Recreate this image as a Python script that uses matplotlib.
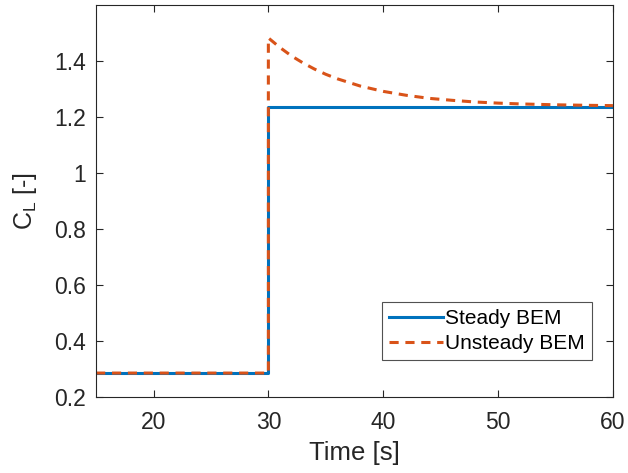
import matplotlib
matplotlib.use("Agg")
import matplotlib.pyplot as plt

plt.rcParams['font.family'] = ['Liberation Sans', 'DejaVu Sans']

# steady BEM: step at t = 30 s
t_steady = [15, 30, 30, 60]
cl_steady = [0.285, 0.285, 1.236, 1.236]

# unsteady BEM: overshoot after the step, then decays towards steady value
t_unsteady = [15, 30, 30, 31, 32, 33, 34, 35, 36, 38, 40, 42, 44, 46, 48, 50, 52, 55, 58, 60]
cl_unsteady = [0.285, 0.285, 1.483, 1.449, 1.419, 1.394, 1.372, 1.353, 1.337, 1.311,
               1.292, 1.278, 1.267, 1.260, 1.254, 1.250, 1.247, 1.244, 1.242, 1.241]

x_ticks = [20, 30, 40, 50, 60]
y_ticks = [0.2, 0.4, 0.6, 0.8, 1.0, 1.2, 1.4]
y_ticklabels = ["0.2", "0.4", "0.6", "0.8", "1", "1.2", "1.4"]

fig = plt.figure(figsize=(6.28, 4.73), dpi=100)
ax = fig.add_axes([0.153, 0.161, 0.823, 0.828])

ax.plot(t_steady, cl_steady, color="#0072BD", lw=2.2, label="Steady BEM")
ax.plot(t_unsteady, cl_unsteady, color="#D95319", lw=2.2, ls=(0, (3, 2.2)), label="Unsteady BEM")

ax.set_xlim(15, 60)
ax.set_ylim(0.2, 1.6)
ax.set_xticks(x_ticks)
ax.set_yticks(y_ticks)
ax.set_yticklabels(y_ticklabels)

dark = "#262626"
for s in ax.spines.values():
    s.set_color(dark)
    s.set_linewidth(0.8)
ax.tick_params(direction="in", length=5, width=0.8, top=True, right=True,
               labelsize=16.5, colors=dark)
ax.tick_params(axis="x", pad=10)
ax.tick_params(axis="y", pad=7)

ax.set_xlabel("Time [s]", fontsize=18.5, color=dark, labelpad=5)
ax.set_ylabel(r"C$_\mathregular{L}$ [-]", fontsize=18, color=dark, labelpad=11)

leg = ax.legend(loc="lower right", bbox_to_anchor=(0.972, 0.077), fontsize=15,
                frameon=True, fancybox=False, handlelength=2.6, handletextpad=0.1,
                borderpad=0.35, labelspacing=0.3, borderaxespad=0.3)
leg.get_frame().set_edgecolor(dark)
leg.get_frame().set_linewidth(0.8)

fig.savefig("out.png", dpi=100)
